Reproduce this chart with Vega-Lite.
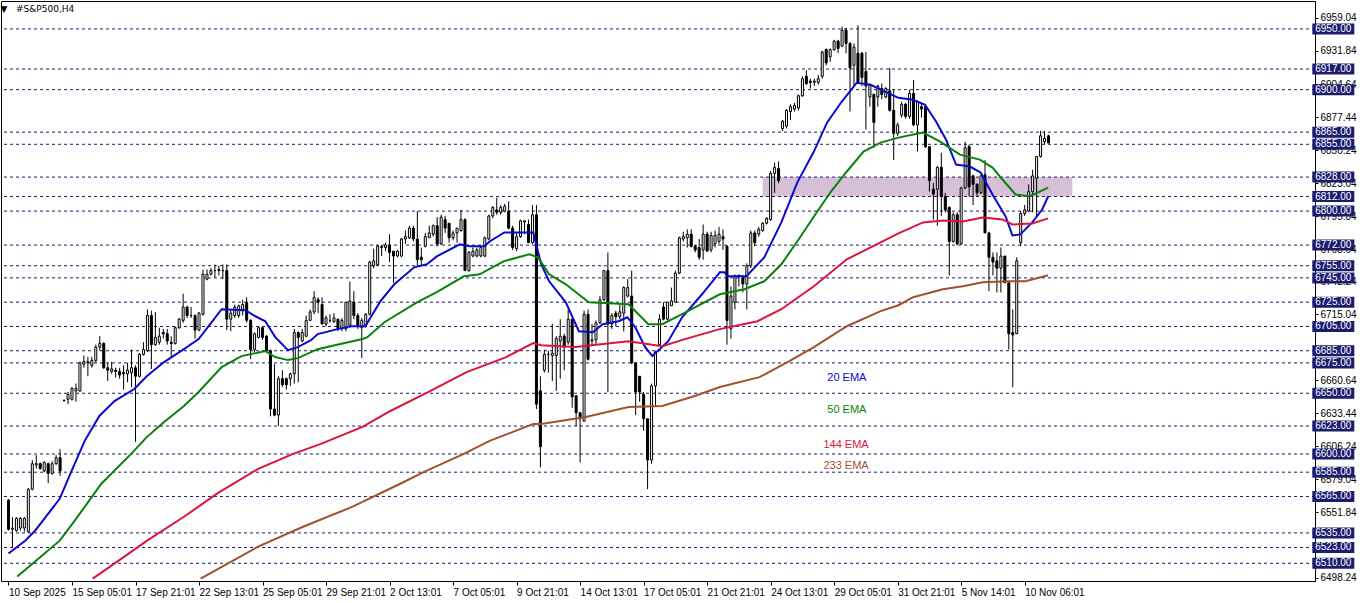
{
"$schema":"https://vega.github.io/schema/vega-lite/v6.json",
"width":1314,"height":580,
"autosize":{"type":"none"},
"padding":{"left":1,"top":1,"right":47,"bottom":22},
"background":"white",
"config":{"view":{"stroke":"black","strokeWidth":1},"font":"Liberation Sans"},
"title":{"text":"\u00a0▼\u00a0\u00a0\u00a0#S&P500,H4","anchor":"start","offset":-13,"font":"DejaVu Sans","fontSize":9,"fontWeight":"normal","color":"black"},
"resolve":{"axis":{"x":"independent","y":"independent"}},
"datasets":{
"zone":[{"i1":190,"i2":268,"p1":6812,"p2":6828}],
"levels":[{"p":6950},{"p":6917},{"p":6900},{"p":6865},{"p":6855},{"p":6828},{"p":6812},{"p":6800},{"p":6772},{"p":6755},{"p":6745},{"p":6725},{"p":6705},{"p":6685},{"p":6675},{"p":6650},{"p":6623},{"p":6600},{"p":6585},{"p":6565},{"p":6535},{"p":6523},{"p":6510}],
"labels":[{"t":"20 EMA","s":"20","i":211.2,"p":6662.5},{"t":"50 EMA","s":"50","i":211.2,"p":6636.2},{"t":"144 EMA","s":"144","i":211.0,"p":6607.4},{"t":"233 EMA","s":"233","i":211.0,"p":6590.1}],
"candles":[
{"i":0,"o":6562,"h":6563,"l":6537,"c":6538},{"i":1,"o":6538,"h":6548,"l":6523,"c":6539},{"i":2,"o":6537,"h":6548,"l":6536,"c":6547},{"i":3,"o":6539,"h":6548,"l":6537,"c":6547},{"i":4,"o":6539,"h":6548,"l":6536,"c":6547},
{"i":5,"o":6536,"h":6572,"l":6535,"c":6571},{"i":6,"o":6571,"h":6595,"l":6570,"c":6592},{"i":7,"o":6591,"h":6599,"l":6588,"c":6592},{"i":8,"o":6592,"h":6593,"l":6587,"c":6588},{"i":9,"o":6586,"h":6594,"l":6585,"c":6593},
{"i":10,"o":6592,"h":6593,"l":6576,"c":6584},{"i":11,"o":6584,"h":6594,"l":6583,"c":6592},{"i":12,"o":6592,"h":6599,"l":6591,"c":6597},{"i":13,"o":6597,"h":6604,"l":6582,"c":6586},{"i":14,"o":6644,"h":6645,"l":6643,"c":6644},
{"i":15,"o":6645,"h":6651,"l":6641,"c":6649},{"i":16,"o":6645,"h":6655,"l":6644,"c":6654},{"i":17,"o":6652,"h":6658,"l":6643,"c":6654},{"i":18,"o":6652,"h":6676,"l":6651,"c":6675},{"i":19,"o":6674,"h":6681,"l":6671,"c":6676},
{"i":20,"o":6675,"h":6680,"l":6664,"c":6676},{"i":21,"o":6673,"h":6680,"l":6671,"c":6677},{"i":22,"o":6677,"h":6690,"l":6675,"c":6688},{"i":23,"o":6688,"h":6697,"l":6685,"c":6691},{"i":24,"o":6691,"h":6692,"l":6670,"c":6671},
{"i":25,"o":6671,"h":6675,"l":6660,"c":6669},{"i":26,"o":6668,"h":6676,"l":6666,"c":6670},{"i":27,"o":6669,"h":6671,"l":6663,"c":6668},{"i":28,"o":6668,"h":6671,"l":6662,"c":6665},{"i":29,"o":6667,"h":6673,"l":6653,"c":6666},
{"i":30,"o":6666,"h":6675,"l":6659,"c":6669},{"i":31,"o":6667,"h":6686,"l":6655,"c":6671},{"i":32,"o":6671,"h":6673,"l":6610,"c":6664},{"i":33,"o":6664,"h":6683,"l":6663,"c":6682},{"i":34,"o":6682,"h":6692,"l":6681,"c":6686},
{"i":35,"o":6685,"h":6719,"l":6684,"c":6714},{"i":36,"o":6714,"h":6718,"l":6670,"c":6690},{"i":37,"o":6690,"h":6717,"l":6689,"c":6696},{"i":38,"o":6692,"h":6704,"l":6690,"c":6697},{"i":39,"o":6700,"h":6703,"l":6695,"c":6699},
{"i":40,"o":6699,"h":6703,"l":6690,"c":6693},{"i":41,"o":6692,"h":6697,"l":6680,"c":6691},{"i":42,"o":6691,"h":6705,"l":6690,"c":6704},{"i":43,"o":6704,"h":6712,"l":6703,"c":6711},{"i":44,"o":6710,"h":6732,"l":6708,"c":6721},
{"i":45,"o":6721,"h":6722,"l":6712,"c":6714},{"i":46,"o":6714,"h":6721,"l":6712,"c":6714},{"i":47,"o":6714,"h":6715,"l":6695,"c":6702},{"i":48,"o":6702,"h":6717,"l":6701,"c":6716},{"i":49,"o":6715,"h":6752,"l":6714,"c":6748},
{"i":50,"o":6744,"h":6752,"l":6743,"c":6748},{"i":51,"o":6748,"h":6753,"l":6747,"c":6751},{"i":52,"o":6751,"h":6756,"l":6745,"c":6751},{"i":53,"o":6751,"h":6755,"l":6747,"c":6752},{"i":54,"o":6751,"h":6756,"l":6744,"c":6751},
{"i":55,"o":6751,"h":6756,"l":6702,"c":6711},{"i":56,"o":6711,"h":6719,"l":6701,"c":6716},{"i":57,"o":6714,"h":6723,"l":6712,"c":6721},{"i":58,"o":6714,"h":6723,"l":6712,"c":6722},{"i":59,"o":6718,"h":6727,"l":6714,"c":6723},
{"i":60,"o":6725,"h":6729,"l":6708,"c":6710},{"i":61,"o":6710,"h":6711,"l":6678,"c":6686},{"i":62,"o":6686,"h":6700,"l":6684,"c":6699},{"i":63,"o":6696,"h":6705,"l":6695,"c":6704},{"i":64,"o":6704,"h":6705,"l":6694,"c":6696},
{"i":65,"o":6697,"h":6698,"l":6684,"c":6685},{"i":66,"o":6685,"h":6686,"l":6631,"c":6637},{"i":67,"o":6637,"h":6674,"l":6631,"c":6632},{"i":68,"o":6632,"h":6664,"l":6623,"c":6662},{"i":69,"o":6662,"h":6669,"l":6655,"c":6657},
{"i":70,"o":6662,"h":6663,"l":6653,"c":6657},{"i":71,"o":6662,"h":6667,"l":6656,"c":6666},{"i":72,"o":6666,"h":6703,"l":6658,"c":6700},{"i":73,"o":6700,"h":6701,"l":6659,"c":6696},{"i":74,"o":6693,"h":6703,"l":6692,"c":6700},
{"i":75,"o":6697,"h":6714,"l":6696,"c":6710},{"i":76,"o":6710,"h":6719,"l":6710,"c":6717},{"i":77,"o":6717,"h":6734,"l":6715,"c":6729},{"i":78,"o":6727,"h":6729,"l":6716,"c":6725},{"i":79,"o":6723,"h":6729,"l":6707,"c":6707},
{"i":80,"o":6707,"h":6714,"l":6705,"c":6712},{"i":81,"o":6710,"h":6715,"l":6708,"c":6710},{"i":82,"o":6709,"h":6716,"l":6708,"c":6712},{"i":83,"o":6711,"h":6711,"l":6701,"c":6703},{"i":84,"o":6703,"h":6712,"l":6701,"c":6710},
{"i":85,"o":6703,"h":6725,"l":6701,"c":6725},{"i":86,"o":6706,"h":6742,"l":6704,"c":6726},{"i":87,"o":6725,"h":6734,"l":6711,"c":6714},{"i":88,"o":6714,"h":6716,"l":6703,"c":6706},{"i":89,"o":6704,"h":6712,"l":6679,"c":6710},
{"i":90,"o":6706,"h":6716,"l":6704,"c":6715},{"i":91,"o":6715,"h":6759,"l":6714,"c":6758},{"i":92,"o":6755,"h":6769,"l":6753,"c":6759},{"i":93,"o":6756,"h":6772,"l":6755,"c":6771},{"i":94,"o":6770,"h":6772,"l":6763,"c":6771},
{"i":95,"o":6770,"h":6774,"l":6767,"c":6772},{"i":96,"o":6772,"h":6781,"l":6758,"c":6766},{"i":97,"o":6767,"h":6767,"l":6741,"c":6763},{"i":98,"o":6763,"h":6768,"l":6762,"c":6767},{"i":99,"o":6763,"h":6778,"l":6762,"c":6777},
{"i":100,"o":6777,"h":6784,"l":6773,"c":6779},{"i":101,"o":6778,"h":6788,"l":6777,"c":6786},{"i":102,"o":6786,"h":6788,"l":6775,"c":6777},{"i":103,"o":6777,"h":6800,"l":6755,"c":6760},{"i":104,"o":6762,"h":6770,"l":6755,"c":6760},
{"i":105,"o":6771,"h":6782,"l":6770,"c":6779},{"i":106,"o":6778,"h":6788,"l":6778,"c":6782},{"i":107,"o":6781,"h":6789,"l":6779,"c":6788},{"i":108,"o":6788,"h":6795,"l":6771,"c":6773},{"i":109,"o":6773,"h":6797,"l":6772,"c":6795},
{"i":110,"o":6793,"h":6796,"l":6782,"c":6786},{"i":111,"o":6790,"h":6790,"l":6774,"c":6778},{"i":112,"o":6778,"h":6784,"l":6776,"c":6782},{"i":113,"o":6782,"h":6786,"l":6774,"c":6786},{"i":114,"o":6784,"h":6801,"l":6783,"c":6793},
{"i":115,"o":6793,"h":6794,"l":6751,"c":6751},{"i":116,"o":6751,"h":6767,"l":6750,"c":6766},{"i":117,"o":6763,"h":6770,"l":6762,"c":6767},{"i":118,"o":6763,"h":6770,"l":6762,"c":6768},{"i":119,"o":6763,"h":6771,"l":6762,"c":6770},
{"i":120,"o":6763,"h":6779,"l":6762,"c":6778},{"i":121,"o":6777,"h":6797,"l":6776,"c":6796},{"i":122,"o":6796,"h":6804,"l":6794,"c":6803},{"i":123,"o":6801,"h":6811,"l":6797,"c":6799},{"i":124,"o":6799,"h":6805,"l":6797,"c":6803},
{"i":125,"o":6800,"h":6806,"l":6799,"c":6804},{"i":126,"o":6800,"h":6808,"l":6785,"c":6786},{"i":127,"o":6786,"h":6788,"l":6768,"c":6770},{"i":128,"o":6769,"h":6782,"l":6767,"c":6779},{"i":129,"o":6779,"h":6793,"l":6778,"c":6792},
{"i":130,"o":6791,"h":6792,"l":6781,"c":6792},{"i":131,"o":6789,"h":6793,"l":6774,"c":6774},{"i":132,"o":6774,"h":6805,"l":6773,"c":6797},{"i":133,"o":6797,"h":6805,"l":6637,"c":6641},{"i":134,"o":6652,"h":6664,"l":6589,"c":6606},
{"i":135,"o":6669,"h":6686,"l":6667,"c":6682},{"i":136,"o":6682,"h":6685,"l":6667,"c":6682},{"i":137,"o":6681,"h":6707,"l":6660,"c":6683},{"i":138,"o":6681,"h":6697,"l":6652,"c":6695},{"i":139,"o":6693,"h":6711,"l":6662,"c":6697},
{"i":140,"o":6697,"h":6699,"l":6669,"c":6688},{"i":141,"o":6692,"h":6719,"l":6690,"c":6711},{"i":142,"o":6711,"h":6711,"l":6638,"c":6647},{"i":143,"o":6648,"h":6648,"l":6623,"c":6634},{"i":144,"o":6634,"h":6634,"l":6593,"c":6629},
{"i":145,"o":6627,"h":6718,"l":6627,"c":6715},{"i":146,"o":6715,"h":6719,"l":6677,"c":6678},{"i":147,"o":6693,"h":6707,"l":6689,"c":6694},{"i":148,"o":6694,"h":6710,"l":6690,"c":6708},{"i":149,"o":6708,"h":6730,"l":6707,"c":6727},
{"i":150,"o":6727,"h":6751,"l":6726,"c":6751},{"i":151,"o":6751,"h":6766,"l":6651,"c":6707},{"i":152,"o":6707,"h":6716,"l":6703,"c":6714},{"i":153,"o":6716,"h":6718,"l":6705,"c":6713},{"i":154,"o":6713,"h":6723,"l":6711,"c":6717},
{"i":155,"o":6716,"h":6738,"l":6701,"c":6737},{"i":156,"o":6730,"h":6744,"l":6729,"c":6737},{"i":157,"o":6730,"h":6751,"l":6674,"c":6675},{"i":158,"o":6675,"h":6675,"l":6632,"c":6651},{"i":159,"o":6664,"h":6664,"l":6643,"c":6651},
{"i":160,"o":6649,"h":6651,"l":6619,"c":6629},{"i":161,"o":6629,"h":6629,"l":6571,"c":6595},{"i":162,"o":6595,"h":6658,"l":6592,"c":6656},{"i":163,"o":6656,"h":6685,"l":6640,"c":6684},{"i":164,"o":6690,"h":6715,"l":6690,"c":6711},
{"i":165,"o":6721,"h":6725,"l":6710,"c":6711},{"i":166,"o":6711,"h":6725,"l":6710,"c":6725},{"i":167,"o":6722,"h":6737,"l":6722,"c":6726},{"i":168,"o":6725,"h":6751,"l":6725,"c":6749},{"i":169,"o":6749,"h":6779,"l":6748,"c":6778},
{"i":170,"o":6777,"h":6783,"l":6775,"c":6779},{"i":171,"o":6778,"h":6785,"l":6770,"c":6781},{"i":172,"o":6781,"h":6785,"l":6770,"c":6771},{"i":173,"o":6771,"h":6772,"l":6766,"c":6768},{"i":174,"o":6770,"h":6777,"l":6760,"c":6762},
{"i":175,"o":6768,"h":6789,"l":6760,"c":6781},{"i":176,"o":6781,"h":6783,"l":6767,"c":6767},{"i":177,"o":6768,"h":6783,"l":6766,"c":6780},{"i":178,"o":6773,"h":6784,"l":6770,"c":6780},{"i":179,"o":6775,"h":6787,"l":6773,"c":6781},
{"i":180,"o":6779,"h":6785,"l":6768,"c":6777},{"i":181,"o":6771,"h":6772,"l":6690,"c":6710},{"i":182,"o":6703,"h":6738,"l":6695,"c":6730},{"i":183,"o":6725,"h":6748,"l":6719,"c":6746},{"i":184,"o":6746,"h":6748,"l":6738,"c":6747},
{"i":185,"o":6745,"h":6747,"l":6733,"c":6740},{"i":186,"o":6740,"h":6757,"l":6719,"c":6755},{"i":187,"o":6755,"h":6784,"l":6753,"c":6782},{"i":188,"o":6782,"h":6784,"l":6771,"c":6774},{"i":189,"o":6781,"h":6787,"l":6779,"c":6785},
{"i":190,"o":6784,"h":6791,"l":6783,"c":6790},{"i":191,"o":6790,"h":6795,"l":6789,"c":6794},{"i":192,"o":6793,"h":6833,"l":6792,"c":6831},{"i":193,"o":6831,"h":6840,"l":6815,"c":6836},{"i":194,"o":6835,"h":6841,"l":6823,"c":6825},
{"i":195,"o":6868,"h":6875,"l":6866,"c":6874},{"i":196,"o":6870,"h":6884,"l":6868,"c":6883},{"i":197,"o":6882,"h":6888,"l":6875,"c":6886},{"i":198,"o":6884,"h":6889,"l":6882,"c":6887},{"i":199,"o":6885,"h":6896,"l":6883,"c":6895},
{"i":200,"o":6895,"h":6911,"l":6894,"c":6909},{"i":201,"o":6911,"h":6916,"l":6904,"c":6905},{"i":202,"o":6907,"h":6909,"l":6901,"c":6906},{"i":203,"o":6906,"h":6909,"l":6903,"c":6907},{"i":204,"o":6906,"h":6912,"l":6904,"c":6909},
{"i":205,"o":6911,"h":6932,"l":6909,"c":6931},{"i":206,"o":6933,"h":6934,"l":6920,"c":6922},{"i":207,"o":6927,"h":6934,"l":6923,"c":6933},{"i":208,"o":6933,"h":6941,"l":6932,"c":6940},{"i":209,"o":6940,"h":6941,"l":6930,"c":6934},
{"i":210,"o":6936,"h":6952,"l":6935,"c":6949},{"i":211,"o":6949,"h":6951,"l":6930,"c":6938},{"i":212,"o":6938,"h":6939,"l":6882,"c":6918},{"i":213,"o":6920,"h":6938,"l":6903,"c":6935},{"i":214,"o":6930,"h":6953,"l":6905,"c":6905},
{"i":215,"o":6930,"h":6931,"l":6903,"c":6910},{"i":216,"o":6915,"h":6931,"l":6867,"c":6903},{"i":217,"o":6894,"h":6905,"l":6886,"c":6904},{"i":218,"o":6896,"h":6897,"l":6852,"c":6873},{"i":219,"o":6894,"h":6904,"l":6886,"c":6903},
{"i":220,"o":6901,"h":6905,"l":6892,"c":6896},{"i":221,"o":6894,"h":6902,"l":6893,"c":6901},{"i":222,"o":6899,"h":6918,"l":6882,"c":6883},{"i":223,"o":6883,"h":6900,"l":6842,"c":6864},{"i":224,"o":6864,"h":6873,"l":6862,"c":6871},
{"i":225,"o":6879,"h":6890,"l":6877,"c":6888},{"i":226,"o":6888,"h":6889,"l":6876,"c":6878},{"i":227,"o":6878,"h":6900,"l":6876,"c":6897},{"i":228,"o":6897,"h":6908,"l":6870,"c":6871},{"i":229,"o":6871,"h":6891,"l":6849,"c":6890},
{"i":230,"o":6886,"h":6889,"l":6877,"c":6884},{"i":231,"o":6886,"h":6888,"l":6852,"c":6853},{"i":232,"o":6853,"h":6853,"l":6816,"c":6825},{"i":233,"o":6818,"h":6823,"l":6793,"c":6814},{"i":234,"o":6818,"h":6837,"l":6788,"c":6836},
{"i":235,"o":6836,"h":6848,"l":6796,"c":6812},{"i":236,"o":6812,"h":6815,"l":6799,"c":6801},{"i":237,"o":6803,"h":6804,"l":6747,"c":6775},{"i":238,"o":6775,"h":6799,"l":6774,"c":6797},{"i":239,"o":6797,"h":6799,"l":6772,"c":6773},
{"i":240,"o":6773,"h":6820,"l":6772,"c":6819},{"i":241,"o":6819,"h":6857,"l":6818,"c":6852},{"i":242,"o":6853,"h":6855,"l":6812,"c":6820},{"i":243,"o":6829,"h":6830,"l":6805,"c":6822},{"i":244,"o":6822,"h":6823,"l":6812,"c":6815},
{"i":245,"o":6815,"h":6830,"l":6814,"c":6829},{"i":246,"o":6830,"h":6842,"l":6782,"c":6782},{"i":247,"o":6782,"h":6783,"l":6734,"c":6762},{"i":248,"o":6762,"h":6766,"l":6747,"c":6758},{"i":249,"o":6759,"h":6766,"l":6733,"c":6753},
{"i":250,"o":6753,"h":6770,"l":6733,"c":6763},{"i":251,"o":6763,"h":6763,"l":6741,"c":6741},{"i":252,"o":6741,"h":6741,"l":6686,"c":6699},{"i":253,"o":6700,"h":6719,"l":6655,"c":6698},{"i":254,"o":6699,"h":6762,"l":6699,"c":6759},
{"i":255,"o":6774,"h":6800,"l":6771,"c":6798},{"i":256,"o":6798,"h":6805,"l":6796,"c":6801},{"i":257,"o":6800,"h":6822,"l":6799,"c":6816},{"i":258,"o":6816,"h":6834,"l":6799,"c":6829},{"i":259,"o":6827,"h":6845,"l":6796,"c":6845},
{"i":260,"o":6845,"h":6866,"l":6844,"c":6862},{"i":261,"o":6857,"h":6866,"l":6855,"c":6860},{"i":262,"o":6862,"h":6863,"l":6856,"c":6856}
],
"ema":[
{"s":"20","i":0,"p":6518},{"s":"20","i":4.2,"p":6528.6},{"s":"20","i":6.7,"p":6536.8},{"s":"20","i":12.9,"p":6563.1},{"s":"20","i":15.9,"p":6586.1},{"s":"20","i":19.2,"p":6610.8},{"s":"20","i":22.9,"p":6631.3},{"s":"20","i":26.7,"p":6643.6},{"s":"20","i":31.7,"p":6653.5},{"s":"20","i":34.9,"p":6664.2},{"s":"20","i":39.2,"p":6675.7},{"s":"20","i":44.2,"p":6686.3},{"s":"20","i":47.9,"p":6694.6},{"s":"20","i":51.2,"p":6708.5},{"s":"20","i":53.7,"p":6719.2},{"s":"20","i":59.7,"p":6718.4},{"s":"20","i":62.2,"p":6713.4},{"s":"20","i":64.7,"p":6709.3},{"s":"20","i":67.2,"p":6696.2},{"s":"20","i":70.4,"p":6685.5},{"s":"20","i":72.9,"p":6688},{"s":"20","i":76.2,"p":6693.7},{"s":"20","i":77.9,"p":6698.7},{"s":"20","i":82.9,"p":6702.8},{"s":"20","i":86.2,"p":6705.2},{"s":"20","i":89.9,"p":6705.2},{"s":"20","i":93.7,"p":6725.8},{"s":"20","i":97.2,"p":6739.7},{"s":"20","i":102.2,"p":6753.7},{"s":"20","i":105.4,"p":6756.2},{"s":"20","i":107.9,"p":6762.7},{"s":"20","i":113.7,"p":6772.6},{"s":"20","i":116.2,"p":6771},{"s":"20","i":119.9,"p":6771},{"s":"20","i":121.2,"p":6775},{"s":"20","i":124.9,"p":6782.4},{"s":"20","i":132.2,"p":6782.4},{"s":"20","i":134.2,"p":6756.2},{"s":"20","i":136.2,"p":6742.2},{"s":"20","i":140.4,"p":6724.9},{"s":"20","i":143.7,"p":6701.1},{"s":"20","i":147.2,"p":6700.3},{"s":"20","i":149.7,"p":6706.9},{"s":"20","i":153.7,"p":6709.3},{"s":"20","i":155.9,"p":6712.6},{"s":"20","i":157.9,"p":6704.4},{"s":"20","i":160.4,"p":6688},{"s":"20","i":162.2,"p":6680.6},{"s":"20","i":166.2,"p":6692.9},{"s":"20","i":169.7,"p":6712.6},{"s":"20","i":174.7,"p":6731.5},{"s":"20","i":179.2,"p":6749.6},{"s":"20","i":180.4,"p":6749.6},{"s":"20","i":181.2,"p":6746.3},{"s":"20","i":185.9,"p":6746.3},{"s":"20","i":190.4,"p":6761.9},{"s":"20","i":194.7,"p":6790.7},{"s":"20","i":198.7,"p":6823.5},{"s":"20","i":202.9,"p":6849},{"s":"20","i":206.2,"p":6872.8},{"s":"20","i":209.7,"p":6889.2},{"s":"20","i":213.7,"p":6905.7},{"s":"20","i":217.2,"p":6904},{"s":"20","i":219.7,"p":6900},{"s":"20","i":224.2,"p":6893.3},{"s":"20","i":227.9,"p":6891.7},{"s":"20","i":230.9,"p":6887.6},{"s":"20","i":233.7,"p":6873.6},{"s":"20","i":236.2,"p":6858.8},{"s":"20","i":238.7,"p":6838.3},{"s":"20","i":242.2,"p":6836.7},{"s":"20","i":244.9,"p":6831.7},{"s":"20","i":247.9,"p":6813.7},{"s":"20","i":251.2,"p":6795.6},{"s":"20","i":252.9,"p":6780},{"s":"20","i":254.9,"p":6780.8},{"s":"20","i":257.9,"p":6790.7},{"s":"20","i":260.4,"p":6801.3},{"s":"20","i":261.9,"p":6812},
{"s":"50","i":2.2,"p":6499.1},{"s":"50","i":6.7,"p":6511.4},{"s":"50","i":12.9,"p":6528.6},{"s":"50","i":16.7,"p":6545.1},{"s":"50","i":23.4,"p":6575.5},{"s":"50","i":30.9,"p":6600.1},{"s":"50","i":34.9,"p":6614.1},{"s":"50","i":39.2,"p":6626.4},{"s":"50","i":44.2,"p":6639.5},{"s":"50","i":47.9,"p":6651},{"s":"50","i":53.7,"p":6671.6},{"s":"50","i":58.7,"p":6680.6},{"s":"50","i":64.7,"p":6684.7},{"s":"50","i":67.2,"p":6679.8},{"s":"50","i":70.4,"p":6677.3},{"s":"50","i":72.9,"p":6678.9},{"s":"50","i":77.9,"p":6686.3},{"s":"50","i":82.2,"p":6689.6},{"s":"50","i":89.2,"p":6694.6},{"s":"50","i":90.4,"p":6696.2},{"s":"50","i":94.7,"p":6708.5},{"s":"50","i":102.9,"p":6724.9},{"s":"50","i":107.9,"p":6733.2},{"s":"50","i":114.7,"p":6746.3},{"s":"50","i":118.7,"p":6747.9},{"s":"50","i":124.7,"p":6758.6},{"s":"50","i":131.2,"p":6764.4},{"s":"50","i":133.4,"p":6761.9},{"s":"50","i":136.2,"p":6747.9},{"s":"50","i":140.4,"p":6739.7},{"s":"50","i":146.2,"p":6724.9},{"s":"50","i":156.2,"p":6723.3},{"s":"50","i":161.2,"p":6706.9},{"s":"50","i":164.7,"p":6706.9},{"s":"50","i":169.7,"p":6715.1},{"s":"50","i":179.2,"p":6731.5},{"s":"50","i":185.4,"p":6735.6},{"s":"50","i":190.4,"p":6742.2},{"s":"50","i":194.7,"p":6756.2},{"s":"50","i":198.7,"p":6775},{"s":"50","i":202.9,"p":6795.6},{"s":"50","i":207.2,"p":6816.1},{"s":"50","i":211.2,"p":6832.6},{"s":"50","i":215.4,"p":6849},{"s":"50","i":219.7,"p":6856.4},{"s":"50","i":224.2,"p":6860.5},{"s":"50","i":230.4,"p":6864.6},{"s":"50","i":234.7,"p":6857.2},{"s":"50","i":239.7,"p":6846.5},{"s":"50","i":244.7,"p":6842.4},{"s":"50","i":247.9,"p":6835.8},{"s":"50","i":250.4,"p":6826},{"s":"50","i":253.7,"p":6813.7},{"s":"50","i":257.2,"p":6812},{"s":"50","i":261.9,"p":6819.4},
{"s":"144","i":21.2,"p":6497.4},{"s":"144","i":27.4,"p":6511.4},{"s":"144","i":34.9,"p":6528.6},{"s":"144","i":44.2,"p":6548.3},{"s":"144","i":52.9,"p":6568.1},{"s":"144","i":62.9,"p":6587.8},{"s":"144","i":71.7,"p":6600.1},{"s":"144","i":78.7,"p":6608.3},{"s":"144","i":89.2,"p":6622.3},{"s":"144","i":96.2,"p":6635.4},{"s":"144","i":106.2,"p":6651.8},{"s":"144","i":115.4,"p":6667.4},{"s":"144","i":125.4,"p":6679.8},{"s":"144","i":132.2,"p":6691.3},{"s":"144","i":134.2,"p":6689.6},{"s":"144","i":142.9,"p":6688},{"s":"144","i":156.2,"p":6692.9},{"s":"144","i":164.7,"p":6688.8},{"s":"144","i":170.4,"p":6694.6},{"s":"144","i":179.2,"p":6702.8},{"s":"144","i":188.7,"p":6709.3},{"s":"144","i":194.7,"p":6719.2},{"s":"144","i":202.9,"p":6738.1},{"s":"144","i":211.2,"p":6760.3},{"s":"144","i":219.7,"p":6774.2},{"s":"144","i":224.2,"p":6781.6},{"s":"144","i":230.4,"p":6790.7},{"s":"144","i":235.4,"p":6792.3},{"s":"144","i":240.4,"p":6791.5},{"s":"144","i":245.4,"p":6794.8},{"s":"144","i":250.4,"p":6793.1},{"s":"144","i":252.9,"p":6789},{"s":"144","i":257.9,"p":6789.8},{"s":"144","i":261.9,"p":6794},
{"s":"233","i":48.4,"p":6497.4},{"s":"233","i":62.9,"p":6523.7},{"s":"233","i":74.2,"p":6540.1},{"s":"233","i":86.7,"p":6556.6},{"s":"233","i":99.2,"p":6576.3},{"s":"233","i":104.7,"p":6585.3},{"s":"233","i":114.7,"p":6600.1},{"s":"233","i":121.2,"p":6610.8},{"s":"233","i":132.2,"p":6624.7},{"s":"233","i":134.2,"p":6624.7},{"s":"233","i":145.4,"p":6630.5},{"s":"233","i":156.2,"p":6638.7},{"s":"233","i":164.7,"p":6639.5},{"s":"233","i":172.9,"p":6647.7},{"s":"233","i":179.2,"p":6655.1},{"s":"233","i":189.2,"p":6663.3},{"s":"233","i":196.7,"p":6676.5},{"s":"233","i":202.9,"p":6688},{"s":"233","i":211.2,"p":6705.2},{"s":"233","i":219.7,"p":6717.6},{"s":"233","i":224.2,"p":6722.5},{"s":"233","i":227.9,"p":6729.1},{"s":"233","i":235.4,"p":6735.6},{"s":"233","i":240.4,"p":6738.1},{"s":"233","i":245.4,"p":6741.4},{"s":"233","i":252.2,"p":6742.2},{"s":"233","i":256.2,"p":6742.2},{"s":"233","i":261.9,"p":6747.1}
]
},
"layer":[
{"data":{"name":"zone"},"mark":{"type":"rect","fill":"#d8bfd8"},
 "encoding":{
  "x":{"field":"i1","type":"quantitative","scale":{"domain":[-0.625,327.875],"nice":false,"zero":false},
   "axis":{"title":null,"values":[0,16,32,48,64,80,96,112,128,144,160,176,192,208,224,240,256],
    "labelExpr":"['10 Sep 2025','15 Sep 05:01','17 Sep 21:01','22 Sep 13:01','25 Sep 05:01','29 Sep 21:01','2 Oct 13:01','7 Oct 05:01','9 Oct 21:01','14 Oct 13:01','17 Oct 05:01','21 Oct 21:01','24 Oct 13:01','29 Oct 05:01','31 Oct 21:01','5 Nov 14:01','10 Nov 06:01'][round(datum.value/16)]",
    "labelAlign":"left","labelBaseline":"top","labelDx":-2,"labelPadding":2,"labelFont":"Liberation Sans","labelFontSize":10,"labelColor":"black","labelFlush":false,"labelOverlap":false,"tickColor":"black","tickSize":4,"domainColor":"black","grid":false}},
  "x2":{"field":"i2"},
  "y":{"field":"p1","type":"quantitative","scale":{"domain":[6495.4,6973.0],"nice":false,"zero":false},
   "axis":{"orient":"right","title":null,"values":[6959.04,6931.84,6904.64,6877.44,6850.24,6823.04,6795.84,6768.64,6742.24,6715.04,6660.64,6633.44,6606.24,6579.04,6551.84,6498.24],
    "format":".2f","labelFont":"Liberation Sans","labelFontSize":10,"labelColor":"black","labelPadding":2,"labelFlush":false,"labelOverlap":false,"tickColor":"black","tickSize":3,"domainColor":"black","grid":false}},
  "y2":{"field":"p2"}}},
{"data":{"name":"levels"},"mark":{"type":"rule","stroke":"#1c1c6e","strokeWidth":1,"strokeDash":[3,3]},
 "encoding":{"y":{"field":"p","type":"quantitative","axis":null}}},
{"mark":{"type":"rule","stroke":"#b4b4b4","strokeWidth":1},
 "encoding":{"y":{"datum":6856.7,"type":"quantitative","axis":null}}},
{"data":{"name":"candles"},"mark":{"type":"rule","stroke":"black","strokeWidth":1},
 "encoding":{"x":{"field":"i","type":"quantitative","axis":null},"y":{"field":"l","type":"quantitative","axis":null},"y2":{"field":"h"}}},
{"data":{"name":"candles"},"mark":{"type":"bar","width":2,"stroke":"black","strokeWidth":1},
 "encoding":{"x":{"field":"i","type":"quantitative","axis":null},"y":{"field":"o","type":"quantitative","axis":null},"y2":{"field":"c"},
  "fill":{"condition":{"test":"datum.c >= datum.o","value":"white"},"value":"black"}}},
{"data":{"name":"ema"},"mark":{"type":"line","strokeWidth":2},
 "encoding":{"x":{"field":"i","type":"quantitative","axis":null},"y":{"field":"p","type":"quantitative","axis":null},
  "color":{"field":"s","type":"nominal","scale":{"domain":["20","50","144","233"],"range":["#0a0ad2","#0a820a","#dc143c","#a0522d"]},"legend":null}}},
{"data":{"name":"labels"},"mark":{"type":"text","font":"Liberation Sans","fontSize":11,"align":"center","baseline":"middle"},
 "encoding":{"x":{"field":"i","type":"quantitative","axis":null},"y":{"field":"p","type":"quantitative","axis":null},"text":{"field":"t"},
  "color":{"field":"s","type":"nominal","scale":{"domain":["20","50","144","233"],"range":["#0a0ad2","#0a820a","#dc143c","#a0522d"]},"legend":null}}},
{"mark":{"type":"rule","stroke":"black","strokeWidth":3},
 "encoding":{"x":{"datum":328.2,"type":"quantitative","axis":null},"y":{"datum":6955,"type":"quantitative","axis":null},"y2":{"datum":6893}}},
{"data":{"name":"levels"},"mark":{"type":"tick","orient":"horizontal","size":42,"thickness":11,"color":"#1c1c6e","opacity":1},
 "encoding":{"x":{"datum":333.75,"type":"quantitative","axis":null},"y":{"field":"p","type":"quantitative","axis":null}}},
{"data":{"name":"levels"},"mark":{"type":"text","font":"Liberation Sans","fontSize":10,"align":"center","baseline":"middle","fill":"white"},
 "encoding":{"x":{"datum":333.75,"type":"quantitative","axis":null},"y":{"field":"p","type":"quantitative","axis":null},"text":{"field":"p","type":"quantitative","format":".2f"}}}
]
}
